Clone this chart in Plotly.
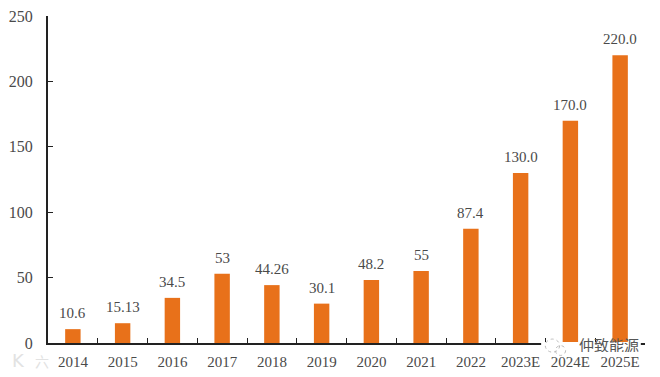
import plotly.graph_objects as go

categories = ["2014","2015","2016","2017","2018","2019","2020","2021","2022","2023E","2024E","2025E"]
values = [10.6,15.13,34.5,53,44.26,30.1,48.2,55,87.4,130,170,220]
labels = ["10.6","15.13","34.5","53","44.26","30.1","48.2","55","87.4","130.0","170.0","220.0"]
yticks = [0,50,100,150,200,250]
FONT = "Liberation Serif"
INK = "#4a4a4a"
AXIS = "#222222"

fig = go.Figure(go.Bar(x=categories, y=values, marker=dict(color="#E8711A", line_width=0), width=0.31))
fig.update_layout(width=660, height=377, margin=dict(l=40, r=23, t=8, b=42),
    paper_bgcolor="white", plot_bgcolor="white", showlegend=False,
    font=dict(family=FONT, size=15, color=INK))
fig.update_xaxes(type="category", categoryorder="array", categoryarray=categories,
    range=[-0.5, len(categories) - 0.5], automargin=False, showline=True, linecolor=AXIS, linewidth=2,
    ticks="inside", tickson="boundaries", ticklen=5, tickcolor=AXIS, showgrid=False,
    ticklabelstandoff=4, tickfont=dict(family=FONT, size=15, color=INK))
fig.update_yaxes(range=[0,250], automargin=False, tickvals=yticks, showline=True, linecolor=AXIS, linewidth=2,
    ticks="inside", ticklen=5, tickcolor=AXIS, showgrid=False, zeroline=False,
    ticklabelstandoff=10, ticklabeloverflow="allow", tickfont=dict(family=FONT, size=16, color=INK))

for i, (v, t) in enumerate(zip(values, labels)):
    fig.add_annotation(x=i, y=v, text=t, showarrow=False, yanchor="bottom", yshift=6,
        font=dict(family=FONT, size=15, color=INK))

# watermarks
fig.add_shape(type="rect", xref="paper", yref="paper", x0=0.826, x1=0.993, y0=-0.012, y1=0.003,
    fillcolor="white", line_width=0, layer="above")
fig.add_shape(type="circle", xref="paper", yref="paper", x0=0.833, x1=0.857, y0=-0.028, y1=0.012,
    line=dict(color="#bbbbbb", width=1, dash="dot"), layer="above")
fig.add_shape(type="circle", xref="paper", yref="paper", x0=0.85, x1=0.867, y0=-0.038, y1=-0.008,
    line=dict(color="#bbbbbb", width=1, dash="dot"), layer="above")
fig.add_annotation(xref="paper", yref="paper", x=0.94, y=-0.003, xanchor="center", yanchor="middle", text="仲致能源",
    height=16, showarrow=False, borderpad=0, font=dict(family="Noto Sans CJK SC", size=15, color="#555555"))
fig.add_annotation(xref="paper", yref="paper", x=-0.05, y=-0.055, xanchor="center", yanchor="middle", text="K",
    showarrow=False, font=dict(family="DejaVu Sans", size=18, color="#e2e2e2"))
fig.add_annotation(xref="paper", yref="paper", x=-0.01, y=-0.055, xanchor="center", yanchor="middle", text="六",
    showarrow=False, font=dict(family="Noto Sans CJK SC", size=14, color="#e2e2e2"))
fig.write_html("out.html")
